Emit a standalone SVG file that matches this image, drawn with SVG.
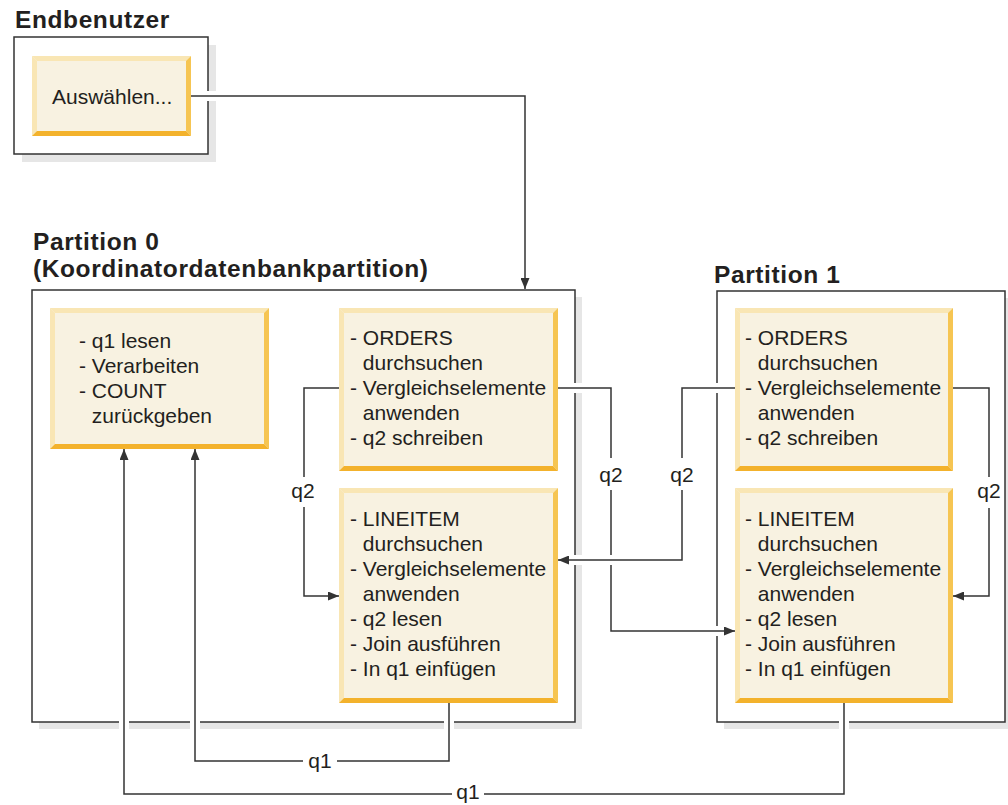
<svg xmlns="http://www.w3.org/2000/svg" width="1008" height="805" viewBox="0 0 1008 805">
<style>
.t{font-family:"Liberation Sans",Arial,Helvetica,sans-serif;font-size:21px;fill:#231f20}
.h{font-family:"Liberation Sans",Arial,Helvetica,sans-serif;font-size:24.5px;font-weight:bold;fill:#231f20;letter-spacing:0.6px}
.lab{text-anchor:middle}
.frame{fill:#ffffff;stroke:#333333;stroke-width:1.5}
.shadow{fill:#e6e6e6}
.fill{fill:#f8f2e1}
.bt{fill:#f9e6b4}
.br{fill:#f6c552}
.bb{fill:#f3b22c}
.c{fill:none;stroke:#333333;stroke-width:1.5}
.gap{fill:#ffffff}
</style>
<defs>
<marker id="arr" markerUnits="userSpaceOnUse" markerWidth="11" markerHeight="9" refX="11" refY="4.5" orient="auto">
<path d="M0,0 L11,4.5 L0,9 z" fill="#333333"/>
</marker>
</defs>

<g id="endbenutzer">
<text class="h" x="15" y="28">Endbenutzer</text>
<rect class="shadow" x="22" y="45" width="194" height="117"/>
<rect class="frame" x="14" y="37" width="194" height="117"/>
</g>
<g id="partition0">
<text class="h" x="33" y="250">Partition 0</text>
<text class="h" x="33" y="277">(Koordinatordatenbankpartition)</text>
<rect class="shadow" x="39" y="297" width="543" height="432"/>
<rect class="frame" x="32" y="290" width="543" height="432"/>
</g>
<g id="partition1">
<text class="h" x="714" y="283">Partition 1</text>
<rect class="shadow" x="724" y="298" width="288" height="431"/>
<rect class="frame" x="717" y="291" width="288" height="431"/>
</g>

<g id="gaps">
<rect class="gap" x="204" y="91" width="14" height="10"/>
<rect class="gap" x="572" y="383" width="13" height="10"/>
<rect class="gap" x="572" y="555" width="13" height="10"/>
<rect class="gap" x="713" y="383" width="8" height="10"/>
<rect class="gap" x="713" y="626" width="8" height="10"/>
<rect class="gap" x="119" y="719" width="10" height="12"/>
<rect class="gap" x="190" y="719" width="10" height="12"/>
<rect class="gap" x="444" y="719" width="10" height="12"/>
<rect class="gap" x="839" y="719" width="10" height="12"/>
</g>

<g id="auswaehlen">
<rect class="fill" x="32" y="56" width="159" height="80"/>
<polygon class="bt" points="32,56 191,56 186,61 37,61"/>
<polygon class="bt" points="32,56 37,61 37,131 32,136"/>
<polygon class="br" points="191,56 191,136 186,131 186,61"/>
<polygon class="bb" points="32,136 191,136 186,131 37,131"/>
<text class="t" x="52" y="104">Auswählen...</text>
</g>

<g id="p0-count">
<rect class="fill" x="50" y="308" width="219" height="141"/>
<polygon class="bt" points="50,308 269,308 264,313 55,313"/>
<polygon class="bt" points="50,308 55,313 55,444 50,449"/>
<polygon class="br" points="269,308 269,449 264,444 264,313"/>
<polygon class="bb" points="50,449 269,449 264,444 55,444"/>
<text class="t"><tspan x="79" y="348">- q1 lesen</tspan><tspan x="79" y="373">- Verarbeiten</tspan><tspan x="79" y="398">- COUNT</tspan><tspan x="91.8" y="423">zurückgeben</tspan></text>
</g>

<g id="p0-orders">
<rect class="fill" x="339" y="308" width="219" height="163"/>
<polygon class="bt" points="339,308 558,308 553,313 344,313"/>
<polygon class="bt" points="339,308 344,313 344,466 339,471"/>
<polygon class="br" points="558,308 558,471 553,466 553,313"/>
<polygon class="bb" points="339,471 558,471 553,466 344,466"/>
<text class="t"><tspan x="350" y="345">- ORDERS</tspan><tspan x="362.8" y="370">durchsuchen</tspan><tspan x="350" y="395">- Vergleichselemente</tspan><tspan x="362.8" y="420">anwenden</tspan><tspan x="350" y="445">- q2 schreiben</tspan></text>
</g>

<g id="p0-lineitem">
<rect class="fill" x="339" y="488" width="219" height="215"/>
<polygon class="bt" points="339,488 558,488 553,493 344,493"/>
<polygon class="bt" points="339,488 344,493 344,698 339,703"/>
<polygon class="br" points="558,488 558,703 553,698 553,493"/>
<polygon class="bb" points="339,703 558,703 553,698 344,698"/>
<text class="t"><tspan x="350" y="526">- LINEITEM</tspan><tspan x="362.8" y="551">durchsuchen</tspan><tspan x="350" y="576">- Vergleichselemente</tspan><tspan x="362.8" y="601">anwenden</tspan><tspan x="350" y="626">- q2 lesen</tspan><tspan x="350" y="651">- Join ausführen</tspan><tspan x="350" y="676">- In q1 einfügen</tspan></text>
</g>

<g id="p1-orders">
<rect class="fill" x="735" y="308" width="218" height="163"/>
<polygon class="bt" points="735,308 953,308 948,313 740,313"/>
<polygon class="bt" points="735,308 740,313 740,466 735,471"/>
<polygon class="br" points="953,308 953,471 948,466 948,313"/>
<polygon class="bb" points="735,471 953,471 948,466 740,466"/>
<text class="t"><tspan x="745" y="345">- ORDERS</tspan><tspan x="757.8" y="370">durchsuchen</tspan><tspan x="745" y="395">- Vergleichselemente</tspan><tspan x="757.8" y="420">anwenden</tspan><tspan x="745" y="445">- q2 schreiben</tspan></text>
</g>

<g id="p1-lineitem">
<rect class="fill" x="735" y="488" width="218" height="215"/>
<polygon class="bt" points="735,488 953,488 948,493 740,493"/>
<polygon class="bt" points="735,488 740,493 740,698 735,703"/>
<polygon class="br" points="953,488 953,703 948,698 948,493"/>
<polygon class="bb" points="735,703 953,703 948,698 740,698"/>
<text class="t"><tspan x="745" y="526">- LINEITEM</tspan><tspan x="757.8" y="551">durchsuchen</tspan><tspan x="745" y="576">- Vergleichselemente</tspan><tspan x="757.8" y="601">anwenden</tspan><tspan x="745" y="626">- q2 lesen</tspan><tspan x="745" y="651">- Join ausführen</tspan><tspan x="745" y="676">- In q1 einfügen</tspan></text>
</g>

<g id="connectors">
<path class="c" d="M191,96 H525 V289" marker-end="url(#arr)"/>
<path class="c" d="M339,388 H304 V596 H339" marker-end="url(#arr)"/>
<path class="c" d="M558,388 H611 V631 H735" marker-end="url(#arr)"/>
<rect class="gap" x="606" y="555" width="10" height="10"/>
<path class="c" d="M735,388 H682 V560 H558" marker-end="url(#arr)"/>
<path class="c" d="M953,388 H989 V596 H953" marker-end="url(#arr)"/>
<path class="c" d="M449,703 V761 H195 V449" marker-end="url(#arr)"/>
<path class="c" d="M844,703 V794 H124 V449" marker-end="url(#arr)"/>
<rect class="gap" x="290" y="477" width="28" height="30"/>
<rect class="gap" x="598" y="458" width="26" height="32"/>
<rect class="gap" x="669" y="458" width="26" height="32"/>
<rect class="gap" x="978" y="477" width="22" height="31"/>
<rect class="gap" x="303" y="752" width="34" height="20"/>
<rect class="gap" x="452" y="785" width="32" height="20"/>
<text class="t lab" x="303" y="498">q2</text>
<text class="t lab" x="611" y="482">q2</text>
<text class="t lab" x="682" y="482">q2</text>
<text class="t lab" x="989" y="498">q2</text>
<text class="t lab" x="320" y="768">q1</text>
<text class="t lab" x="468" y="799">q1</text>
</g>
</svg>
